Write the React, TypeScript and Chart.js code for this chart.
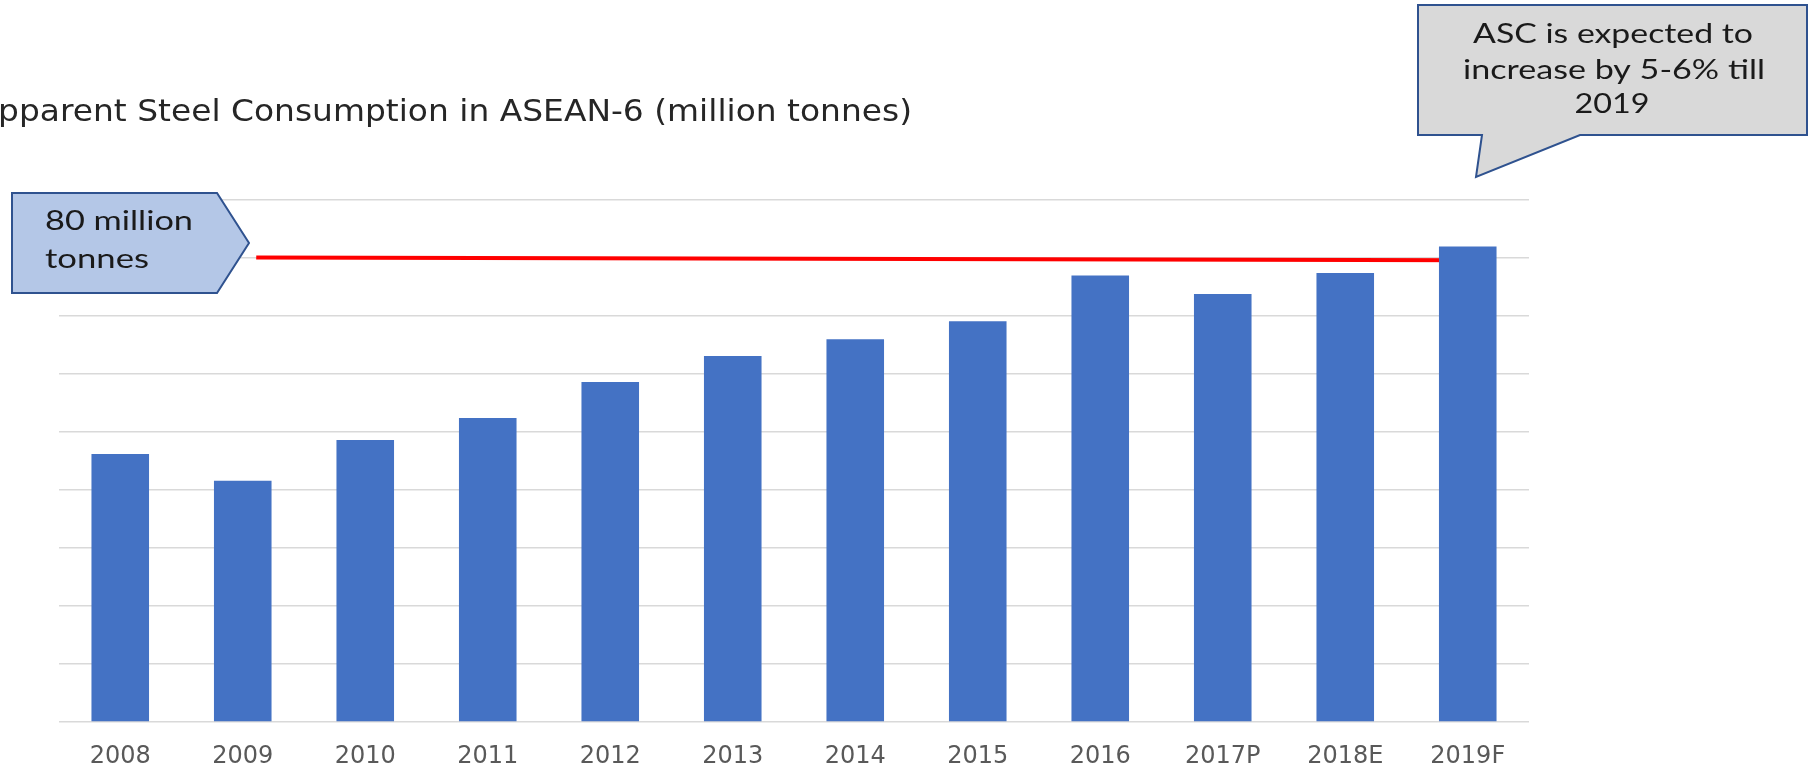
import React, { useEffect, useRef } from "react";
import { Chart, registerables } from "chart.js";

Chart.register(...registerables);

// ---- data ----
const categories = ["2008", "2009", "2010", "2011", "2012", "2013", "2014", "2015", "2016", "2017P", "2018E", "2019F"];
const consumption = [46.2, 41.6, 48.6, 52.4, 58.6, 63.1, 66.0, 69.1, 77.0, 73.8, 77.4, 82.0];
const targetLineX = [1.11, 11.0];
const targetLineY = [80.1, 79.6];
const yMin = 0;
const yMax = 90;
const yStep = 10;
const titleText = "Apparent Steel Consumption in ASEAN-6 (million tonnes)";
const leftCallout = ["80 million", "tonnes"];
const rightCallout = ["ASC is expected to", "increase by 5-6% till", "2019"];

function fitText(ctx: CanvasRenderingContext2D, text: string, x: number, y: number, w: number, align: "left" | "center") {
  const mw = ctx.measureText(text).width;
  const sx = w / mw;
  ctx.save();
  const startX = align === "center" ? x - w / 2 : x;
  ctx.translate(startX, y);
  ctx.scale(sx, 1);
  ctx.textAlign = "left";
  ctx.fillText(text, 0, 0);
  ctx.restore();
}

const overlayPlugin = {
  id: "overlay",
  afterDraw(chart: any) {
    const ctx: CanvasRenderingContext2D = chart.ctx;
    ctx.save();
    ctx.textBaseline = "alphabetic";

    // title (cut off at the left edge, as in the source)
    ctx.font = '31px "DejaVu Sans"';
    ctx.fillStyle = "#262626";
    const sub = titleText.slice(1);
    const sx = 914 / ctx.measureText(sub).width;
    const fullW = ctx.measureText(titleText).width * sx;
    ctx.save();
    ctx.translate(912 - fullW, 121);
    ctx.scale(sx, 1);
    ctx.fillText(titleText, 0, 0);
    ctx.restore();

    // left pentagon callout
    ctx.beginPath();
    ctx.moveTo(12, 193);
    ctx.lineTo(217, 193);
    ctx.lineTo(249, 243);
    ctx.lineTo(217, 293);
    ctx.lineTo(12, 293);
    ctx.closePath();
    ctx.fillStyle = "#B4C7E7";
    ctx.fill();
    ctx.lineWidth = 2;
    ctx.strokeStyle = "#2F528F";
    ctx.stroke();

    ctx.font = '27px "Lato"';
    ctx.fillStyle = "#1a1a1a";
    fitText(ctx, leftCallout[0], 45, 230, 148, "left");
    fitText(ctx, leftCallout[1], 45, 268, 104, "left");

    // right speech bubble
    ctx.beginPath();
    ctx.moveTo(1418, 5);
    ctx.lineTo(1807, 5);
    ctx.lineTo(1807, 135);
    ctx.lineTo(1580, 135);
    ctx.lineTo(1476, 177);
    ctx.lineTo(1482, 135);
    ctx.lineTo(1418, 135);
    ctx.closePath();
    ctx.fillStyle = "#D9D9D9";
    ctx.fill();
    ctx.lineWidth = 2;
    ctx.strokeStyle = "#2F528F";
    ctx.stroke();

    ctx.font = '26px "Lato"';
    ctx.fillStyle = "#1a1a1a";
    fitText(ctx, rightCallout[0], 1613, 43, 280, "center");
    fitText(ctx, rightCallout[1], 1614, 79, 302, "center");
    fitText(ctx, rightCallout[2], 1612, 113, 75, "center");

    ctx.restore();
  },
};

export default function App() {
  const canvasRef = useRef<HTMLCanvasElement | null>(null);

  useEffect(() => {
    document.body.style.margin = "0";
    const canvas = canvasRef.current;
    if (!canvas) return;
    const chart = new Chart(canvas, {
      type: "bar",
      data: {
        labels: categories,
        datasets: [
          {
            type: "bar",
            label: "Apparent Steel Consumption",
            data: consumption,
            backgroundColor: "#4472C4",
            borderWidth: 0,
            barPercentage: 0.47,
            categoryPercentage: 1.0,
            grouped: false,
            xAxisID: "x",
            order: 0,
          } as any,
          {
            type: "line",
            label: "80 million tonnes",
            data: targetLineX.map((x, i) => ({ x, y: targetLineY[i] })),
            xAxisID: "x2",
            borderColor: "#FF0000",
            borderWidth: 4,
            pointRadius: 0,
            fill: false,
            order: 1,
          } as any,
        ],
      },
      options: {
        responsive: false,
        animation: false,
        devicePixelRatio: 1,
        layout: { padding: { left: 59, right: 287, top: 200, bottom: 0 } },
        plugins: {
          legend: { display: false },
          title: { display: false },
          tooltip: { enabled: false },
        },
        scales: {
          x: {
            type: "category",
            offset: true,
            grid: { display: false, drawTicks: false },
            border: { display: false },
            ticks: {
              color: "#595959",
              font: { family: "DejaVu Sans", size: 24 },
              padding: 20,
              maxRotation: 0,
              minRotation: 0,
              autoSkip: false,
            },
            afterFit: (scale: any) => {
              scale.height = 48;
            },
          },
          x2: {
            type: "linear",
            display: false,
            offset: false,
            grid: { offset: false },
            min: -0.5,
            max: categories.length - 0.5,
          },
          y: {
            min: yMin,
            max: yMax,
            ticks: { display: false, stepSize: yStep },
            grid: { color: "#D9D9D9", lineWidth: 1.5, drawTicks: false },
            border: { display: false },
          },
        },
      },
      plugins: [overlayPlugin],
    } as any);
    return () => chart.destroy();
  }, []);

  return (
    <div style={{ width: 1816, height: 770, background: "#ffffff" }}>
      <canvas ref={canvasRef} width={1816} height={770} style={{ display: "block" }} />
    </div>
  );
}
